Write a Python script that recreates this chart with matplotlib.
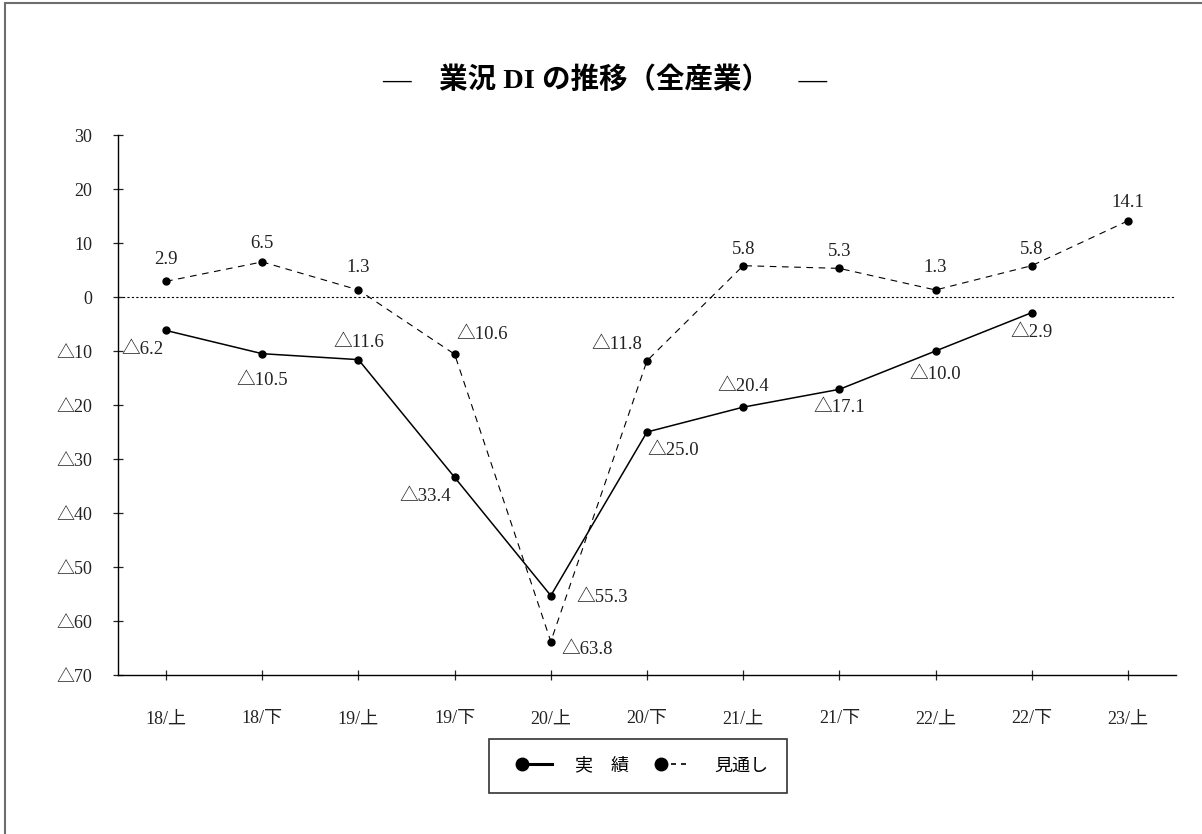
import numpy as np
import matplotlib
matplotlib.use("Agg")
from matplotlib import pyplot as plt
from matplotlib.lines import Line2D
from matplotlib.patches import Rectangle
from matplotlib.legend_handler import HandlerLine2D

plt.rcParams["font.family"] = ["Liberation Serif", "Noto Sans CJK JP"]

# data
periods = ["18/上", "18/下", "19/上", "19/下", "20/上", "20/下",
           "21/上", "21/下", "22/上", "22/下", "23/上"]
actual = [-6.2, -10.5, -11.6, -33.4, -55.3, -25.0, -20.4, -17.1, -10.0, -2.9]
outlook = [2.9, 6.5, 1.3, -10.6, -63.8, -11.8, 5.8, 5.3, 1.3, 5.8, 14.1]
y_ticks = [30, 20, 10, 0, -10, -20, -30, -40, -50, -60, -70]


def fmt(v, dec=1):
    # negative numbers are written with a triangle
    s = f"{abs(v):.{dec}f}"
    return ("△" + s) if v < 0 else s


# label offsets in points (dx, dy)
actual_off = [(-17, -14), (0, -19), (0, 12), (-21, -14), (37, -1),
              (19, -13), (0, 15), (0, -13), (0, -17), (0, -14)]
outlook_off = [(0, 16), (0, 13), (0, 16), (20, 14), (26, -6),
               (-22, 12), (0, 12), (0, 12), (0, 16), (0, 12), (0, 13)]

fig = plt.figure(figsize=(12.02, 8.34), dpi=100)
ax = fig.add_axes([118 / 1202, 159 / 834, 1058 / 1202, 540 / 834])

x = np.arange(len(periods))

ax.axhline(0, color="black", lw=0.8, linestyle=(0, (2, 2)), zorder=1)
ax.plot(x[:len(actual)], actual, color="black", lw=1.1, marker="o",
        markersize=5, zorder=3)
ax.plot(x, outlook, color="black", lw=0.8, linestyle=(0, (6, 5)),
        marker="o", markersize=5, zorder=3)

for i, v in enumerate(actual):
    ax.annotate(fmt(v), (x[i], v), xytext=actual_off[i], textcoords="offset points",
                ha="center", va="center", fontsize=13.5, color="#222222")
for i, v in enumerate(outlook):
    ax.annotate(fmt(v), (x[i], v), xytext=outlook_off[i], textcoords="offset points",
                ha="center", va="center", fontsize=13.5, color="#222222")

ax.set_xlim(-0.5, len(periods) - 0.5)
ax.set_ylim(-70, 30)
ax.set_xticks(x)
ax.set_xticklabels(periods)
ax.set_yticks(y_ticks)
ax.set_yticklabels([fmt(v, 0) for v in y_ticks])
ax.tick_params(axis="x", direction="inout", length=7, width=0.9, pad=22,
               labelsize=13, colors="#222222")
ax.tick_params(axis="y", direction="inout", length=7, width=0.9, pad=15,
               labelsize=13, colors="#222222")
for s in ["top", "right"]:
    ax.spines[s].set_visible(False)
for s in ["left", "bottom"]:
    ax.spines[s].set_linewidth(1.0)

# title
fig.text(605 / 1202, 1 - 80 / 834, "―　業況 DI の推移（全産業）　―",
         ha="center", va="center", fontsize=20.5, fontweight="bold")


# legend: marker at the left end of the line, a little indented
class LeftMarker(HandlerLine2D):
    def create_artists(self, legend, orig_handle, xdescent, ydescent,
                       width, height, fontsize, trans):
        arts = super().create_artists(legend, orig_handle, xdescent, ydescent,
                                      width, height, fontsize, trans)
        line = arts[0]
        xd = np.asarray(line.get_xdata(), dtype=float)
        line.set_xdata(np.linspace(xd[0] + 10, xd[-1], len(xd)))
        line.set_markevery([0])
        return arts


h1 = Line2D([], [], color="black", lw=2.2, marker="o", markersize=9)
h2 = Line2D([], [], color="black", lw=1.2, linestyle=(0, (3, 3)), marker="o", markersize=9)
leg = fig.legend([h1, h2], ["実　績", "見通し"], loc="center",
                 bbox_to_anchor=(638 / 1202, 1 - 766 / 834), ncol=2,
                 fontsize=13, frameon=True, fancybox=False, edgecolor="black",
                 handlelength=2.43, handletextpad=1.27, columnspacing=1.0,
                 borderpad=1.05, numpoints=1,
                 handler_map={h1: LeftMarker(numpoints=1), h2: LeftMarker(numpoints=1)})
leg.get_frame().set_linewidth(1.2)

# outer border
fig.patches.append(Rectangle((5 / 1202, -0.05), 1.1, 1.05 - 3 / 834,
                             transform=fig.transFigure, fill=False,
                             edgecolor="#6e6e6e", lw=1.5))

fig.savefig("out.png", dpi=100)
